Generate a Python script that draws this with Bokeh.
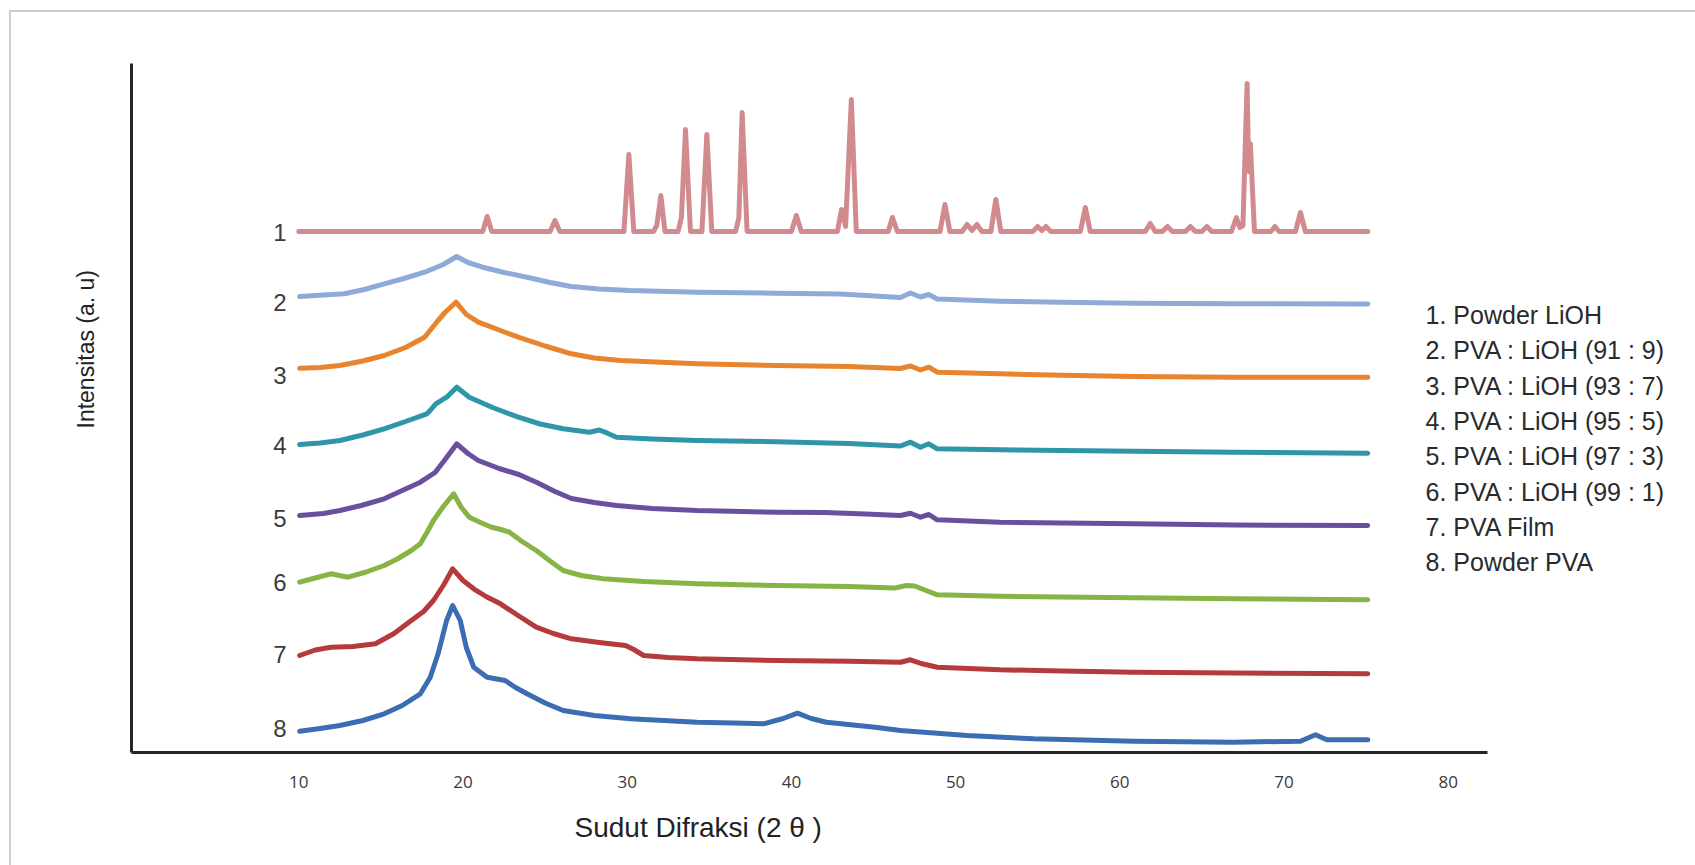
from bokeh.core.properties import value
from bokeh.embed import file_html
from bokeh.models import ColumnDataSource, FixedTicker, Label, Range1d, Title
from bokeh.plotting import figure
from bokeh.resources import INLINE

# ---------------------------------------------------------------- data
two_theta_ticks = [10, 20, 30, 40, 50, 60, 70, 80]

series_names = [
    "1. Powder LiOH",
    "2. PVA : LiOH (91 : 9)",
    "3. PVA : LiOH (93 : 7)",
    "4. PVA : LiOH (95 : 5)",
    "5. PVA : LiOH (97 : 3)",
    "6. PVA : LiOH (99 : 1)",
    "7. PVA Film",
    "8. Powder PVA",
]
series_numbers = ["1", "2", "3", "4", "5", "6", "7", "8"]
series_number_y = [519.6, 450.4, 376.9, 306.6, 234.2, 170.4, 98.0, 24.5]
series_colors = ["#d18b8f", "#8eaad6", "#e8832e", "#2f95a9",
                 "#6a4f9f", "#87b444", "#b53a3b", "#3b6db2"]

# 1. Powder LiOH: crystalline pattern, intensity above its own baseline
lioh_baseline = 521
lioh_two_theta = [10.0, 21.2, 21.47, 21.75, 25.3, 25.6, 25.9, 29.8, 30.1, 30.4,
                  31.6, 31.8, 32.05, 32.3, 33.1, 33.3, 33.55, 33.85, 34.55, 34.85,
                  35.15, 36.6, 36.8, 37.0, 37.3, 40.0, 40.3, 40.6, 42.8, 43.05,
                  43.3, 43.65, 43.95, 45.9, 46.15, 46.45, 49.05, 49.35, 49.65, 50.4,
                  50.7, 51.0, 51.3, 51.6, 52.15, 52.45, 52.75, 54.7, 55.0, 55.25,
                  55.5, 55.8, 57.6, 57.9, 58.2, 61.55, 61.85, 62.15, 62.6, 62.9,
                  63.2, 64.0, 64.3, 64.6, 65.0, 65.3, 65.6, 66.8, 67.1, 67.3,
                  67.5, 67.75, 67.85, 67.95, 68.2, 69.2, 69.45, 69.7, 70.7, 71.0,
                  71.3, 75.1]
lioh_intensity = [0, 0, 15, 0, 0, 11, 0, 0, 77, 0,
                  0, 6, 36, 0, 0, 14, 102, 0, 0, 97,
                  0, 0, 14, 119, 0, 0, 16, 0, 0, 22,
                  5, 132, 0, 0, 14, 0, 0, 27, 0, 0,
                  7, 1, 7, 0, 0, 32, 0, 0, 5, 1,
                  5, 0, 0, 24, 0, 0, 8, 0, 0, 5,
                  0, 0, 5, 0, 0, 5, 0, 0, 14, 4,
                  6, 148, 60, 88, 0, 0, 5, 0, 0, 19,
                  0, 0]

# 2. PVA : LiOH (91 : 9)
pva91_two_theta = [10.05, 11.5, 12.77, 14.0, 15.2, 16.4, 17.66, 18.8, 19.62, 20.3,
                   21.2, 22.5, 23.9, 25.3, 26.6, 28.3, 30.2, 34.25, 39.1, 43.0,
                   46.64, 47.25, 47.86, 48.37, 48.88, 52.7, 56.5, 60.85, 66.9, 75.1]
pva91_intensity = [456, 457.5, 458.7, 463, 468.7, 474, 480.3, 488, 496, 490,
                   485.3, 480, 475.3, 470, 466, 463.5, 462, 460.3, 459.3, 458.5,
                   455, 459.5, 455.5, 458, 453.5, 451.3, 450.3, 449.3, 448.7, 448.5]

# 3. PVA : LiOH (93 : 7)
pva93_two_theta = [10.05, 11.3, 12.5, 13.9, 15.2, 16.5, 17.66, 18.48, 18.9, 19.57,
                   20.2, 20.93, 22.2, 23.37, 25.0, 26.6, 28.0, 29.6, 34.25, 39.1,
                   43.5, 46.64, 47.25, 47.86, 48.37, 48.88, 52.7, 56.5, 60.85, 66.9,
                   75.1]
pva93_intensity = [384.3, 385, 387, 391.5, 397, 405, 415.3, 432, 440, 450.3,
                   438, 430.3, 422.5, 415.3, 406.5, 398.7, 394.5, 392, 388.7, 387,
                   386, 384, 386.5, 382.5, 385.3, 380.3, 378.7, 377.3, 376, 375.3,
                   375.3]

# 4. PVA : LiOH (95 : 5)
pva95_two_theta = [10.05, 11.3, 12.5, 13.9, 15.2, 16.5, 17.8, 18.0, 18.34, 19.0,
                   19.62, 20.38, 21.8, 23.37, 24.7, 26.1, 27.7, 28.3, 28.8, 29.35,
                   31.5, 34.25, 39.1, 43.5, 46.64, 47.25, 47.86, 48.37, 48.88, 52.7,
                   56.5, 60.85, 67.0, 75.1]
pva95_intensity = [308, 309.5, 312, 317.5, 323.7, 331, 338.7, 342, 348.7, 355.3,
                   365.3, 355.3, 345, 335.3, 328.5, 323.7, 320.3, 322.5, 319.3, 315.3,
                   313.5, 312, 310.7, 309, 306.5, 310.3, 305.3, 308.7, 303.7, 302.7,
                   302, 301.3, 300.3, 299.3]

# 5. PVA : LiOH (97 : 3)
pva97_two_theta = [10.05, 11.5, 12.5, 13.8, 15.2, 16.3, 17.4, 18.3, 19.0, 19.62,
                   20.3, 20.93, 22.2, 23.4, 24.5, 25.6, 26.6, 28.0, 29.35, 31.5,
                   34.25, 39.1, 42.0, 44.5, 46.64, 47.25, 47.86, 48.37, 48.88, 52.7,
                   56.5, 60.85, 67.0, 75.1]
pva97_intensity = [237, 239, 242, 247, 253.7, 262, 270.3, 280, 295, 308.7,
                   299, 292, 284, 278, 270, 261, 254, 250, 247, 244,
                   242, 240.3, 240, 238.5, 237, 239.3, 235.3, 238, 232.7, 230.3,
                   229.5, 228.7, 227.5, 227]

# 6. PVA : LiOH (99 : 1)
pva99_two_theta = [10.05, 11.0, 11.95, 13.0, 14.1, 15.2, 16.0, 16.85, 17.4, 17.8,
                   18.2, 18.8, 19.43, 19.9, 20.38, 21.0, 21.74, 22.3, 22.83, 23.6,
                   24.46, 25.3, 26.1, 27.2, 28.54, 31.0, 34.25, 39.1, 43.5, 46.3,
                   47.0, 47.5, 48.2, 48.88, 52.7, 56.5, 60.85, 67.0, 75.1]
pva99_intensity = [170.3, 174.5, 178.7, 175.3, 180.5, 187, 193.5, 202, 208.7, 220,
                   232, 246, 258.7, 245, 235.3, 230.5, 225.3, 223, 220.3, 211,
                   202, 191.5, 182, 177, 173.7, 171, 168.7, 167, 166, 164.5,
                   167, 166.5, 162, 157.7, 156.3, 155.5, 154.7, 153.7, 152.7]

# 7. PVA Film
film_two_theta = [10.05, 11.0, 11.95, 13.3, 14.67, 15.8, 16.85, 17.6, 18.2, 18.8,
                  19.37, 20.0, 20.65, 21.4, 22.28, 23.4, 24.46, 25.5, 26.6, 28.3,
                  29.9, 30.4, 31.0, 32.5, 34.25, 39.1, 43.5, 46.64, 47.25, 47.9,
                  48.88, 52.7, 56.5, 60.85, 67.0, 75.1]
film_intensity = [97, 102.5, 105.3, 106, 108.7, 119, 132, 141, 152, 167,
                  183.7, 172, 163.7, 156, 148.7, 136.5, 125.3, 119, 113.7, 110,
                  107, 103, 97, 95, 93.7, 92, 91.3, 90.3, 92.7, 89,
                  85.3, 82.7, 81.5, 80.3, 79.5, 78.7]

# 8. Powder PVA
pva_powder_two_theta = [10.05, 11.3, 12.5, 13.9, 15.2, 16.3, 17.4, 18.0, 18.48, 19.0,
                        19.37, 19.83, 20.2, 20.65, 21.47, 22.56, 23.2, 23.9, 25.0, 26.1,
                        28.0, 30.2, 34.25, 36.5, 38.3, 39.5, 40.37, 41.2, 42.13, 45.1,
                        46.64, 50.7, 54.75, 60.85, 66.9, 71.0, 71.92, 72.6, 75.1]
pva_powder_intensity = [21.3, 24, 27, 32, 38.7, 47, 58.7, 75, 98.7, 132,
                        147, 132, 105, 85.3, 75.3, 72, 65, 58.7, 49.5, 42,
                        37, 33.7, 30.3, 29.5, 28.7, 34, 39.3, 34, 30.3, 25.3,
                        22, 17, 13.7, 11.3, 10.3, 11.3, 17.7, 12.7, 12.7]

series_x = [lioh_two_theta, pva91_two_theta, pva93_two_theta, pva95_two_theta,
            pva97_two_theta, pva99_two_theta, film_two_theta, pva_powder_two_theta]
series_y = [[lioh_baseline + v for v in lioh_intensity], pva91_intensity,
            pva93_intensity, pva95_intensity, pva97_intensity, pva99_intensity,
            film_intensity, pva_powder_intensity]

# ---------------------------------------------------------------- figure
# The frame runs on to the right edge so the legend column sits inside it;
# the x axis line itself is limited with `bounds`.
X_START, X_AXIS_END, X_VIEW_END = -0.19, 82.39, 95.06

p = figure(
    output_backend="svg",
    toolbar_location=None,
    frame_width=1564,
    frame_height=689,
    min_border_left=120,
    min_border_right=0,
    min_border_top=51,
    min_border_bottom=113,
    x_range=Range1d(X_START, X_VIEW_END),
    y_range=Range1d(0, 689),
    background_fill_color="white",
    border_fill_color="white",
    outline_line_color=None,
)
p.styles = {
    "margin-left": "9px",
    "margin-top": "10px",
    "border-left": "2px solid #cfcfcf",
    "border-top": "2px solid #cfcfcf",
}
p.grid.visible = False

xa = p.xaxis[0]
xa.ticker = FixedTicker(ticks=two_theta_ticks)
xa.bounds = (X_START, X_AXIS_END)
xa.axis_line_width = 3
xa.axis_line_color = "#262626"
xa.major_tick_line_color = None
xa.minor_tick_line_color = None
xa.major_label_standoff = 17
xa.major_label_text_font = "Open Sans"
xa.major_label_text_font_size = "17px"
xa.major_label_text_color = "#3a3a3a"

ya = p.yaxis[0]
ya.ticker = FixedTicker(ticks=[])
ya.axis_line_width = 3
ya.axis_line_color = "#262626"
ya.major_tick_line_color = None
ya.minor_tick_line_color = None

for xs, ys, color in zip(series_x, series_y, series_colors):
    p.line(xs, ys, line_color=color, line_width=5, line_join="round", line_cap="round")

# curve numbers next to where each pattern starts
num_src = ColumnDataSource(dict(
    x=[8.85] * len(series_numbers),
    y=series_number_y,
    text=series_numbers,
))
p.text(x="x", y="y", text="text", source=num_src,
       text_font=value("Liberation Sans"), text_font_size="24px",
       text_color="#3c3c3c", text_align="center", text_baseline="middle")

# legend column to the right of the axis line
for i, name in enumerate(series_names):
    p.add_layout(Label(
        x=78.62, y=437.5 - 35.3 * i, text=name,
        text_font="Liberation Sans", text_font_size="25px",
        text_color="#2a2a2a", text_align="left", text_baseline="middle",
    ))

# axis titles
p.add_layout(Title(
    text="Sudut Difraksi (2 θ )", align="left", offset=443, standoff=38,
    text_font="Liberation Sans", text_font_size="28px",
    text_font_style="normal", text_color="#222222",
), "below")
p.add_layout(Title(
    text="Intensitas (a. u)", align="left", offset=324, standoff=66,
    text_font="Liberation Sans", text_font_size="23px",
    text_font_style="normal", text_color="#222222",
), "left")

open("out.html", "w").write(file_html(p, INLINE))
